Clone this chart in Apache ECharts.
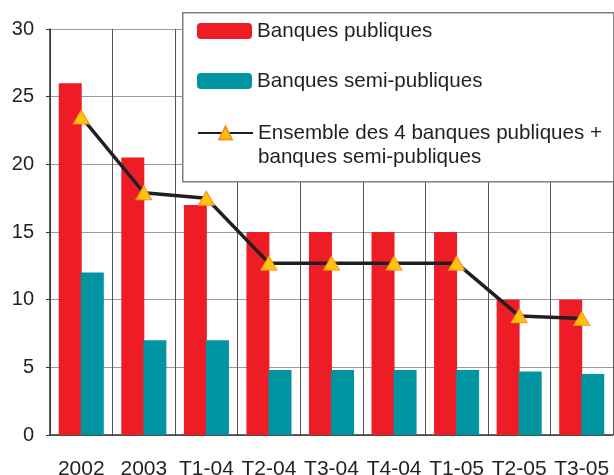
<!DOCTYPE html>
<html><head><meta charset="utf-8">
<script src="https://cdn.jsdelivr.net/npm/echarts@6/dist/echarts.min.js"></script>
<style>html,body{margin:0;padding:0;background:#fff}#c{width:614px;height:475px}</style>
</head><body><div id="c"></div>
<script>
var categories = ['2002','2003','T1-04','T2-04','T3-04','T4-04','T1-05','T2-05','T3-05'];
var publiques = [26, 20.5, 17, 15, 15, 15, 15, 10, 10];
var semiPubliques = [12, 7, 7, 4.8, 4.8, 4.8, 4.8, 4.7, 4.5];
var ensemble = [23.5, 17.9, 17.5, 12.7, 12.7, 12.7, 12.7, 8.8, 8.6];
var yTicks = [0, 5, 10, 15, 20, 25, 30];
var names = ['Banques publiques', 'Banques semi-publiques', 'Ensemble des 4 banques publiques + banques semi-publiques'];
var legendLabels = ['Banques publiques', 'Banques semi-publiques', '\u00a0\nEnsemble des 4 banques publiques +\nbanques semi-publiques'];

var font = 'Liberation Sans, Arial, sans-serif';
var chart = echarts.init(document.getElementById('c'), null, {renderer: 'canvas'});
var legendBase = {
  orient: 'vertical', left: 197, itemWidth: 55, itemHeight: 16, itemGap: 0, padding: 0,
  selectedMode: false, z: 20,
  textStyle: {fontFamily: font, fontSize: 20.6, color: '#231F20', lineHeight: 24}
};
chart.setOption({
  animation: false,
  grid: {left: 50, right: 1, top: 29, bottom: 40, containLabel: false, outerBoundsMode: 'none'},
  graphic: [{
    type: 'rect', z: 10, left: 182, top: 12,
    shape: {width: 431, height: 169},
    style: {fill: '#fff', stroke: '#808080', lineWidth: 1.5}
  }],
  legend: [
    Object.assign({}, legendBase, {top: 19, data: [names[0]]}),
    Object.assign({}, legendBase, {top: 69, data: [names[1]]}),
    Object.assign({}, legendBase, {top: 97, data: [names[2]],
      formatter: function () { return legendLabels[2]; }})
  ],
  xAxis: {
    type: 'category', data: categories, boundaryGap: true,
    axisLine: {lineStyle: {color: '#333', width: 1.5}},
    axisTick: {show: false},
    axisLabel: {fontFamily: font, fontSize: 21, color: '#231F20', margin: 24, interval: 0},
    splitLine: {show: true, interval: 0, lineStyle: {color: '#555', width: 1}}
  },
  yAxis: {
    type: 'value', min: yTicks[0], max: yTicks[yTicks.length - 1], interval: 5,
    axisLine: {show: true, lineStyle: {color: '#333', width: 1.5}},
    axisTick: {show: true, length: 4, lineStyle: {color: '#333'}},
    axisLabel: {fontFamily: font, fontSize: 20, color: '#231F20', margin: 16},
    splitLine: {show: true, lineStyle: {color: '#999', width: 1.2}}
  },
  series: [
    {name: names[0], type: 'bar', data: publiques, barWidth: 23, barGap: '-4%',
      itemStyle: {color: '#EE1C25'}},
    {name: names[1], type: 'bar', data: semiPubliques, barWidth: 23,
      itemStyle: {color: '#0095A0'}},
    {name: names[2], type: 'line', data: ensemble, z: 5,
      lineStyle: {color: '#231F20', width: 3.5},
      symbol: 'triangle', symbolSize: [16, 14],
      itemStyle: {color: '#FFC20E', borderColor: '#F7941D', borderWidth: 1}}
  ]
});
</script></body></html>
